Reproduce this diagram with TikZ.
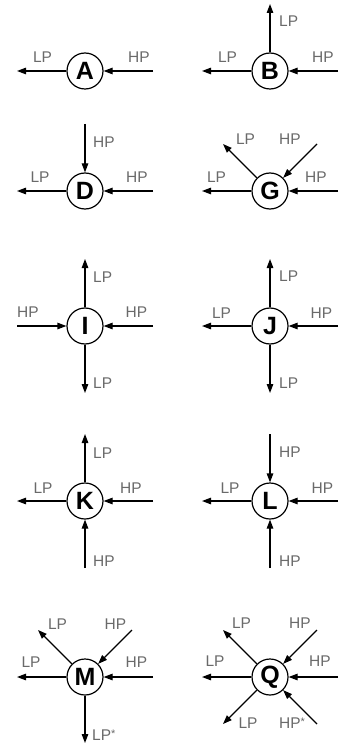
\documentclass[tikz,border=0pt]{standalone}
\usepackage{fontspec}
\setmainfont{Liberation Sans}
\usetikzlibrary{arrows.meta}
\definecolor{lblgray}{HTML}{6A6A6A}
\tikzset{
  hub/.style={circle, draw, line width=1.2pt, minimum size=36pt, inner sep=0pt,
    font=\bfseries\fontsize{25}{25}\selectfont},
  flow/.style={line width=1.2pt, -{Triangle[length=9pt,width=6.5pt]}},
  lbl/.style={text=lblgray, font=\fontsize{15.5}{15.5}\selectfont, anchor=base, inner sep=0pt},
  lblw/.style={lbl, anchor=base west},
}
\newcommand{\smallstar}{\raisebox{2.5pt}{\fontsize{11}{11}\selectfont *}}
\begin{document}
\begin{tikzpicture}[x=1pt,y=-1pt]
\useasboundingbox (0,0) rectangle (338,743);

% ---------- A ----------
\node[hub] (A) at (85,71) {A};
\coordinate (A-w) at (17,71);
\coordinate (A-e) at (153,71);
\draw[flow] (A) -- (A-w);
\draw[flow] (A-e) -- (A);
\node[lbl] (A-l1) at (42.5,63) {LP};
\node[lbl] (A-l2) at (139,63) {HP};

% ---------- B ----------
\node[hub] (B) at (270,71) {B};
\coordinate (B-w) at (202,71);
\coordinate (B-e) at (338,71);
\coordinate (B-n) at (270,4);
\draw[flow] (B) -- (B-w);
\draw[flow] (B-e) -- (B);
\draw[flow] (B) -- (B-n);
\node[lblw] (B-l1) at (279,27) {LP};
\node[lbl] (B-l2) at (227.5,63) {LP};
\node[lbl] (B-l3) at (323,63) {HP};

% ---------- D ----------
\node[hub] (D) at (85,191) {D};
\coordinate (D-w) at (17,191);
\coordinate (D-e) at (153,191);
\coordinate (D-n) at (85,124);
\draw[flow] (D) -- (D-w);
\draw[flow] (D-e) -- (D);
\draw[flow] (D-n) -- (D);
\node[lblw] (D-l1) at (93,148) {HP};
\node[lbl] (D-l2) at (40,183) {LP};
\node[lbl] (D-l3) at (137,183) {HP};

% ---------- G ----------
\node[hub] (G) at (270,191) {G};
\coordinate (G-w) at (202,191);
\coordinate (G-e) at (338,191);
\coordinate (G-nw) at (223,144);
\coordinate (G-ne) at (317,144);
\draw[flow] (G) -- (G-w);
\draw[flow] (G-e) -- (G);
\draw[flow] (G) -- (G-nw);
\draw[flow] (G-ne) -- (G);
\node[lbl] (G-l1) at (245.5,145) {LP};
\node[lbl] (G-l2) at (290,145) {HP};
\node[lbl] (G-l3) at (216.5,183) {LP};
\node[lbl] (G-l4) at (316,183) {HP};

% ---------- I ----------
\node[hub] (I) at (85,326) {I};
\coordinate (I-w) at (17,326);
\coordinate (I-e) at (153,326);
\coordinate (I-n) at (85,259);
\coordinate (I-s) at (85,393);
\draw[flow] (I-w) -- (I);
\draw[flow] (I-e) -- (I);
\draw[flow] (I) -- (I-n);
\draw[flow] (I) -- (I-s);
\node[lbl] (I-l1) at (28,317) {HP};
\node[lbl] (I-l2) at (136.5,317) {HP};
\node[lblw] (I-l3) at (93,282) {LP};
\node[lblw] (I-l4) at (93,388) {LP};

% ---------- J ----------
\node[hub] (J) at (270,326) {J};
\coordinate (J-w) at (202,326);
\coordinate (J-e) at (338,326);
\coordinate (J-n) at (270,259);
\coordinate (J-s) at (270,393);
\draw[flow] (J) -- (J-w);
\draw[flow] (J-e) -- (J);
\draw[flow] (J) -- (J-n);
\draw[flow] (J) -- (J-s);
\node[lbl] (J-l1) at (221.5,318) {LP};
\node[lbl] (J-l2) at (321.5,318) {HP};
\node[lblw] (J-l3) at (279,281) {LP};
\node[lblw] (J-l4) at (279,388) {LP};

% ---------- K ----------
\node[hub] (K) at (85,501) {K};
\coordinate (K-w) at (17,501);
\coordinate (K-e) at (153,501);
\coordinate (K-n) at (85,434);
\coordinate (K-s) at (85,568);
\draw[flow] (K) -- (K-w);
\draw[flow] (K-e) -- (K);
\draw[flow] (K) -- (K-n);
\draw[flow] (K-s) -- (K);
\node[lblw] (K-l1) at (93,458) {LP};
\node[lbl] (K-l2) at (43,493) {LP};
\node[lbl] (K-l3) at (131,493) {HP};
\node[lblw] (K-l4) at (93,566) {HP};

% ---------- L ----------
\node[hub] (L) at (270,501) {L};
\coordinate (L-w) at (202,501);
\coordinate (L-e) at (338,501);
\coordinate (L-n) at (270,434);
\coordinate (L-s) at (270,568);
\draw[flow] (L) -- (L-w);
\draw[flow] (L-e) -- (L);
\draw[flow] (L-n) -- (L);
\draw[flow] (L-s) -- (L);
\node[lblw] (L-l1) at (279,457) {HP};
\node[lbl] (L-l2) at (230,493) {LP};
\node[lbl] (L-l3) at (322.5,493) {HP};
\node[lblw] (L-l4) at (279,566) {HP};

% ---------- M ----------
\node[hub] (M) at (85,677) {M};
\coordinate (M-w) at (17,677);
\coordinate (M-e) at (153,677);
\coordinate (M-nw) at (38,630);
\coordinate (M-ne) at (132,630);
\coordinate (M-s) at (85,743);
\draw[flow] (M) -- (M-w);
\draw[flow] (M-e) -- (M);
\draw[flow] (M) -- (M-nw);
\draw[flow] (M-ne) -- (M);
\draw[flow] (M) -- (M-s);
\node[lbl] (M-l1) at (57.5,629) {LP};
\node[lbl] (M-l2) at (115.5,629) {HP};
\node[lbl] (M-l3) at (31,667) {LP};
\node[lbl] (M-l4) at (136.5,667) {HP};
\node[lblw] (M-l5) at (92,740) {LP\smallstar};

% ---------- Q ----------
\node[hub] (Q) at (270,677) {Q};
\coordinate (Q-w) at (202,677);
\coordinate (Q-e) at (338,677);
\coordinate (Q-nw) at (223,630);
\coordinate (Q-ne) at (317,630);
\coordinate (Q-sw) at (223,724);
\coordinate (Q-se) at (317,724);
\draw[flow] (Q) -- (Q-w);
\draw[flow] (Q-e) -- (Q);
\draw[flow] (Q) -- (Q-nw);
\draw[flow] (Q-ne) -- (Q);
\draw[flow] (Q) -- (Q-sw);
\draw[flow] (Q-se) -- (Q);
\node[lbl] (Q-l1) at (241.5,628) {LP};
\node[lbl] (Q-l2) at (300,628) {HP};
\node[lbl] (Q-l3) at (215,666) {LP};
\node[lbl] (Q-l4) at (320,666) {HP};
\node[lbl] (Q-l5) at (248,728) {LP};
\node[lblw] (Q-l6) at (279,728) {HP\smallstar};
\end{tikzpicture}
\end{document}
